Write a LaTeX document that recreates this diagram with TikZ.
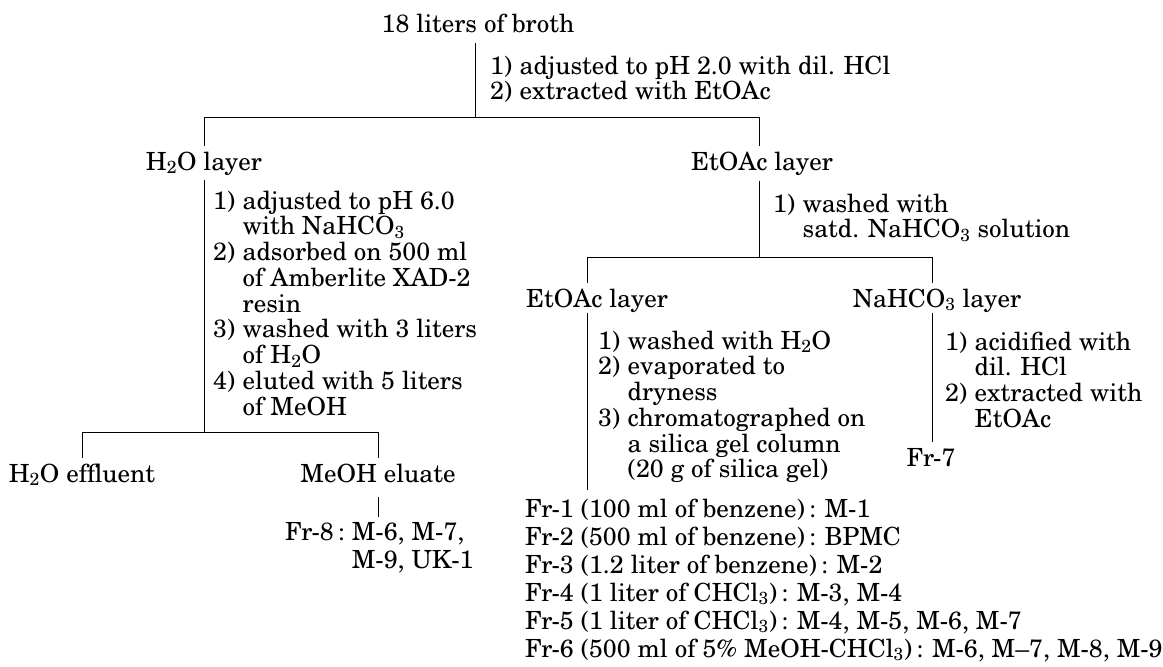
\documentclass[tikz,border=0pt]{standalone}
\usepackage[T1]{fontenc}
\renewcommand{\rmdefault}{pnc}
\newcommand{\stepblk}[1]{\begin{tabular}[t]{@{}l@{\hspace{.3em}}l@{}}#1\end{tabular}}
\newcommand{\sub}[1]{\textsubscript{#1}}
\begin{document}
\begin{tikzpicture}[x=1pt,y=-1pt,
  every node/.style={inner sep=0pt,outer sep=0pt,font=\fontsize{25}{25}\selectfont},
  link/.style={line width=1pt,black},
  lbl/.style={anchor=base},
  steps/.style={anchor=base west},
  frlist/.style={anchor=base west,font=\fontsize{25}{28}\selectfont}]
\useasboundingbox (0,0) rectangle (1163,667);

% ---- texts ----
\node[lbl] (broth) at (478,32) {18 liters of broth};
\node[steps] (sA) at (490,74) {\stepblk{1)&adjusted to pH 2.0 with dil. HCl\\2)&extracted with EtOAc}};
\node[lbl] (h2o) at (204,170) {H\sub{2}O layer};
\node[lbl] (etA) at (762,170) {EtOAc layer};
\node[steps] (sB) at (213,209) {\stepblk{1)&adjusted to pH 6.0\\&with NaHCO\sub{3}\\2)&adsorbed on 500 ml\\&of Amberlite XAD-2\\&resin\\3)&washed with 3 liters\\&of H\sub{2}O\\4)&eluted with 5 liters\\&of MeOH}};
\node[lbl] (eff) at (82,482) {H\sub{2}O effluent};
\node[lbl] (elu) at (378,482) {MeOH eluate};
\node[frlist] (fr8) at (285,540) {\begin{tabular}[t]{@{}l@{\ }l@{}}Fr-8\,:&M-6, M-7,\\&M-9, UK-1\end{tabular}};
\node[steps] (sC) at (773,212) {\stepblk{1)&washed with\\&satd. NaHCO\sub{3} solution}};
\node[lbl] (etB) at (597,307) {EtOAc layer};
\node[lbl] (nah) at (937,307) {NaHCO\sub{3} layer};
\node[steps] (sD) at (598,349) {\stepblk{1)&washed with H\sub{2}O\\2)&evaporated to\\&dryness\\3)&chromatographed on\\&a silica gel column\\&(20 g of silica gel)}};
\node[steps] (sE) at (945,350) {\stepblk{1)&acidified with\\&dil. HCl\\2)&extracted with\\&EtOAc}};
\node[lbl] (fr7) at (931,466) {Fr-7};
\node[frlist] (frs) at (525,517) {\begin{tabular}[t]{@{}l@{}}
Fr-1 (100 ml of benzene)\,: M-1\\
Fr-2 (500 ml of benzene)\,: BPMC\\
Fr-3 (1.2 liter of benzene)\,: M-2\\
Fr-4 (1 liter of CHCl\sub{3})\,: M-3, M-4\\
Fr-5 (1 liter of CHCl\sub{3})\,: M-4, M-5, M-6, M-7\\
Fr-6 (500 ml of 5\% MeOH-CHCl\sub{3})\,: M-6, M--7, M-8, M-9\end{tabular}};

% ---- junctions ----
\coordinate (a0) at (475,43);
\coordinate (j0) at (475,117);
\coordinate (jL) at (204,117);
\coordinate (jR) at (759,117);
\coordinate (h2oT) at (204,146);
\coordinate (etAT) at (759,146);
\coordinate (b0) at (204,180);
\coordinate (j1) at (204,432);
\coordinate (j1L) at (82,432);
\coordinate (j1R) at (378,432);
\coordinate (effT) at (82,458);
\coordinate (eluT) at (378,458);
\coordinate (c0) at (378,497);
\coordinate (c1) at (378,517);
\coordinate (d0) at (759,181);
\coordinate (j2) at (759,257);
\coordinate (j2L) at (587,257);
\coordinate (j2R) at (932,257);
\coordinate (etBT) at (587,283);
\coordinate (nahT) at (932,283);
\coordinate (e0) at (587,313);
\coordinate (e1) at (587,490);
\coordinate (f0) at (932,313);
\coordinate (f1) at (932,442);

% ---- connectors ----
\draw[link] (a0) -- (j0);
\draw[link] (jL) -- (jR);
\draw[link] (jL) -- (h2oT);
\draw[link] (jR) -- (etAT);
\draw[link] (b0) -- (j1);
\draw[link] (j1L) -- (j1R);
\draw[link] (j1L) -- (effT);
\draw[link] (j1R) -- (eluT);
\draw[link] (c0) -- (c1);
\draw[link] (d0) -- (j2);
\draw[link] (j2L) -- (j2R);
\draw[link] (j2L) -- (etBT);
\draw[link] (j2R) -- (nahT);
\draw[link] (e0) -- (e1);
\draw[link] (f0) -- (f1);
\end{tikzpicture}
\end{document}
